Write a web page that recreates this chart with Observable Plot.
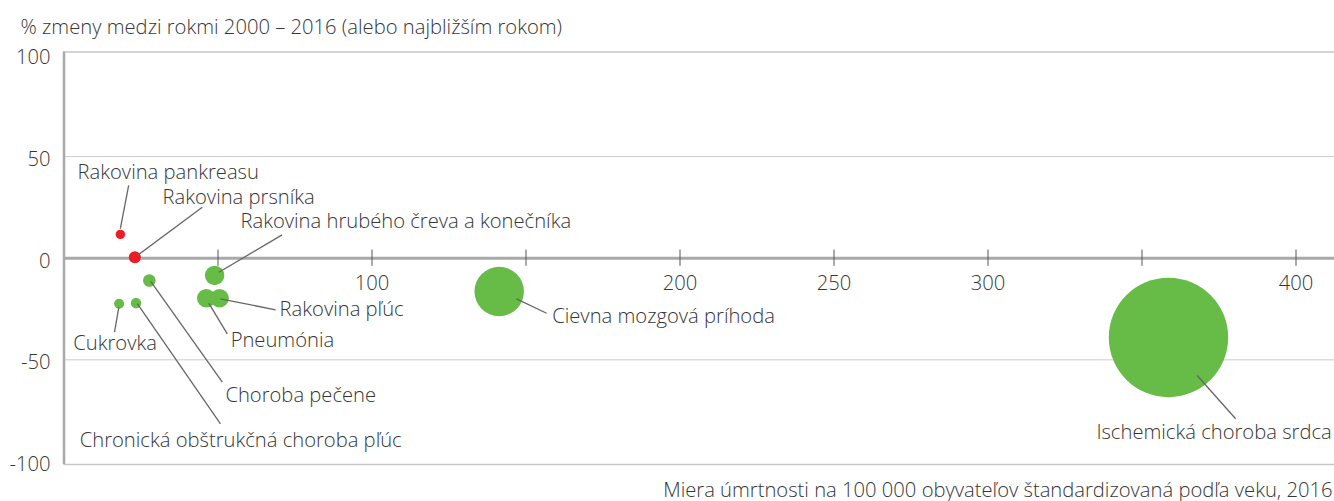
<!DOCTYPE html>
<html>
<head>
<meta charset="utf-8">
<script src="https://cdn.jsdelivr.net/npm/d3@7"></script>
<script src="https://cdn.jsdelivr.net/npm/@observablehq/plot@0.6"></script>
<style>
  html, body { margin: 0; padding: 0; background: #fff; }
  #chart { width: 1334px; height: 501px; }
</style>
</head>
<body>
<div id="chart"></div>
<script>
// ---- data ----
const names = [
  "Rakovina pankreasu",
  "Rakovina prsníka",
  "Rakovina hrubého čreva a konečníka",
  "Choroba pečene",
  "Cukrovka",
  "Chronická obštrukčná choroba pľúc",
  "Pneumónia",
  "Rakovina pľúc",
  "Cievna mozgová príhoda",
  "Ischemická choroba srdca"
];
// mortality per 100 000, age-standardised, 2016
const mortality = [18.3, 23.0, 48.9, 27.7, 17.9, 23.4, 46.2, 50.5, 141.3, 358.6];
// % change 2000–2016
const change = [11.7, 0.5, -8.5, -11.0, -22.4, -22.1, -19.7, -19.7, -16.4, -39.0];
// bubble weight (relative)
const weight = [7.8, 10, 16.2, 10.5, 8.3, 8.8, 15.5, 15.5, 41.2, 99.5];
const trend = ["nárast", "nárast", "pokles", "pokles", "pokles", "pokles", "pokles", "pokles", "pokles", "pokles"];

const xTicks = [50, 100, 150, 200, 250, 300, 350, 400];
const xTickLabels = ["", "100", "", "200", "250", "300", "", "400"];
const yTicks = [100, 50, 0, -50, -100];
const yTickLabels = ["100", "50", "0", "-50", "-100"];

const title = "% zmeny medzi rokmi 2000 – 2016 (alebo najbližším rokom)";
const xLabel = "Miera úmrtnosti na 100 000 obyvateľov štandardizovaná podľa veku, 2016";

// ---- annotation layout (label anchor + leader line, in data units) ----
const labelLayout = [
  {tx: 4.4,   ty: 42.2,  anchor: "start", lx1: 21.0,  ly1: 35.8,  lx2: 18.3,  ly2: 14.5},
  {tx: 32.0,  ty: 29.9,  anchor: "start", lx1: 44.9,  ly1: 25.1,  lx2: 23.8,  ly2: 1.3},
  {tx: 57.3,  ty: 18.1,  anchor: "start", lx1: 70.8,  ly1: 11.5,  lx2: 50.3,  ly2: -6.9},
  {tx: 52.4,  ty: -67.6, anchor: "start", lx1: 51.4,  ly1: -61.0, lx2: 28.1,  ly2: -11.3},
  {tx: 3.0,   ty: -42.1, anchor: "start", lx1: 16.4,  ly1: -36.4, lx2: 17.8,  ly2: -24.1},
  {tx: 5.1,   ty: -89.7, anchor: "start", lx1: 50.8,  ly1: -81.5, lx2: 23.8,  ly2: -22.4},
  {tx: 54.1,  ty: -40.5, anchor: "start", lx1: 53.0,  ly1: -37.2, lx2: 47.0,  ly2: -22.1},
  {tx: 70.0,  ty: -25.4, anchor: "start", lx1: 68.7,  ly1: -25.4, lx2: 50.8,  ly2: -20.0},
  {tx: 158.5, ty: -28.7, anchor: "start", lx1: 156.7, ly1: -27.1, lx2: 146.9, ly2: -20.0},
  {tx: 411.6, ty: -85.6, anchor: "end",   lx1: 380.4, ly1: -79.0, lx2: 367.9, ly2: -57.7}
];

const rows = names.map((n, i) => ({
  name: n, x: mortality[i], y: change[i], w: weight[i], trend: trend[i], ...labelLayout[i]
}));
const xt = xTicks.map((v, i) => ({v, label: xTickLabels[i]}));
const yt = yTicks.map((v, i) => ({v, label: yTickLabels[i]}));

const yDomain = [-101.5, 101.5];
const font = "'Open Sans', 'DejaVu Sans', sans-serif";
const textColor = "#363636";
const fs = 20.2;
const fw = 300;

const chart = Plot.plot({
  width: 1334,
  height: 501,
  marginLeft: 63.5,
  marginRight: 0,
  marginTop: 51.4,
  marginBottom: 37,
  style: {fontFamily: font, fontSize: fs + "px", background: "#fff", overflow: "visible"},
  x: {domain: [0, 412.5], axis: null},
  y: {domain: yDomain, axis: null},
  r: {type: "linear", domain: [0, 100], range: [0, 60]},
  color: {domain: ["nárast", "pokles"], range: ["#ec1c24", "#67bb47"]},
  marks: [
    // frame top/bottom and gridlines
    Plot.ruleY(yDomain, {stroke: "#c6c6c6", strokeWidth: 1.5}),
    Plot.ruleY([50, -50], {stroke: "#cdcdcd", strokeWidth: 1}),
    // zero line
    Plot.ruleY([0], {stroke: "#a9a9ac", strokeWidth: 3}),
    // left axis line
    Plot.ruleX([0], {stroke: "#a9a9ac", strokeWidth: 2.5}),
    // x ticks on zero line
    Plot.ruleX(xt, {x: "v", y1: -4, y2: 4, stroke: "#555", strokeWidth: 1}),
    Plot.text(xt, {x: "v", y: 0, dy: 25, text: "label", fill: textColor, fontSize: fs, fontWeight: fw}),
    // y tick labels
    Plot.text(yt, {frameAnchor: "left", y: "v", text: "label", textAnchor: "end", dx: -13.5, dy: 3, fill: textColor, fontSize: fs, fontWeight: fw}),
    // bubbles
    Plot.dot(rows, {x: "x", y: "y", r: "w", fill: "trend", stroke: "none", sort: {channel: "r", order: "descending"}}),
    // leader lines
    Plot.link(rows, {x1: "lx1", y1: "ly1", x2: "lx2", y2: "ly2", stroke: "#666", strokeWidth: 1.3}),
    // labels
    Plot.text(rows, {filter: d => d.anchor === "start", x: "tx", y: "ty", text: "name", textAnchor: "start", fill: textColor, fontSize: fs, fontWeight: fw}),
    Plot.text(rows, {filter: d => d.anchor === "end", x: "tx", y: "ty", text: "name", textAnchor: "end", fill: textColor, fontSize: fs, fontWeight: fw}),
    // title and x-axis label
    Plot.text([title], {frameAnchor: "top-left", textAnchor: "start", lineAnchor: "middle", dx: -43.5, dy: -24.4, fill: textColor, fontSize: fs, fontWeight: fw}),
    Plot.text([xLabel], {frameAnchor: "bottom-right", textAnchor: "end", lineAnchor: "middle", dx: -2, dy: 26, fill: textColor, fontSize: fs, fontWeight: fw})
  ]
});
document.getElementById("chart").appendChild(chart);
</script>
</body>
</html>
